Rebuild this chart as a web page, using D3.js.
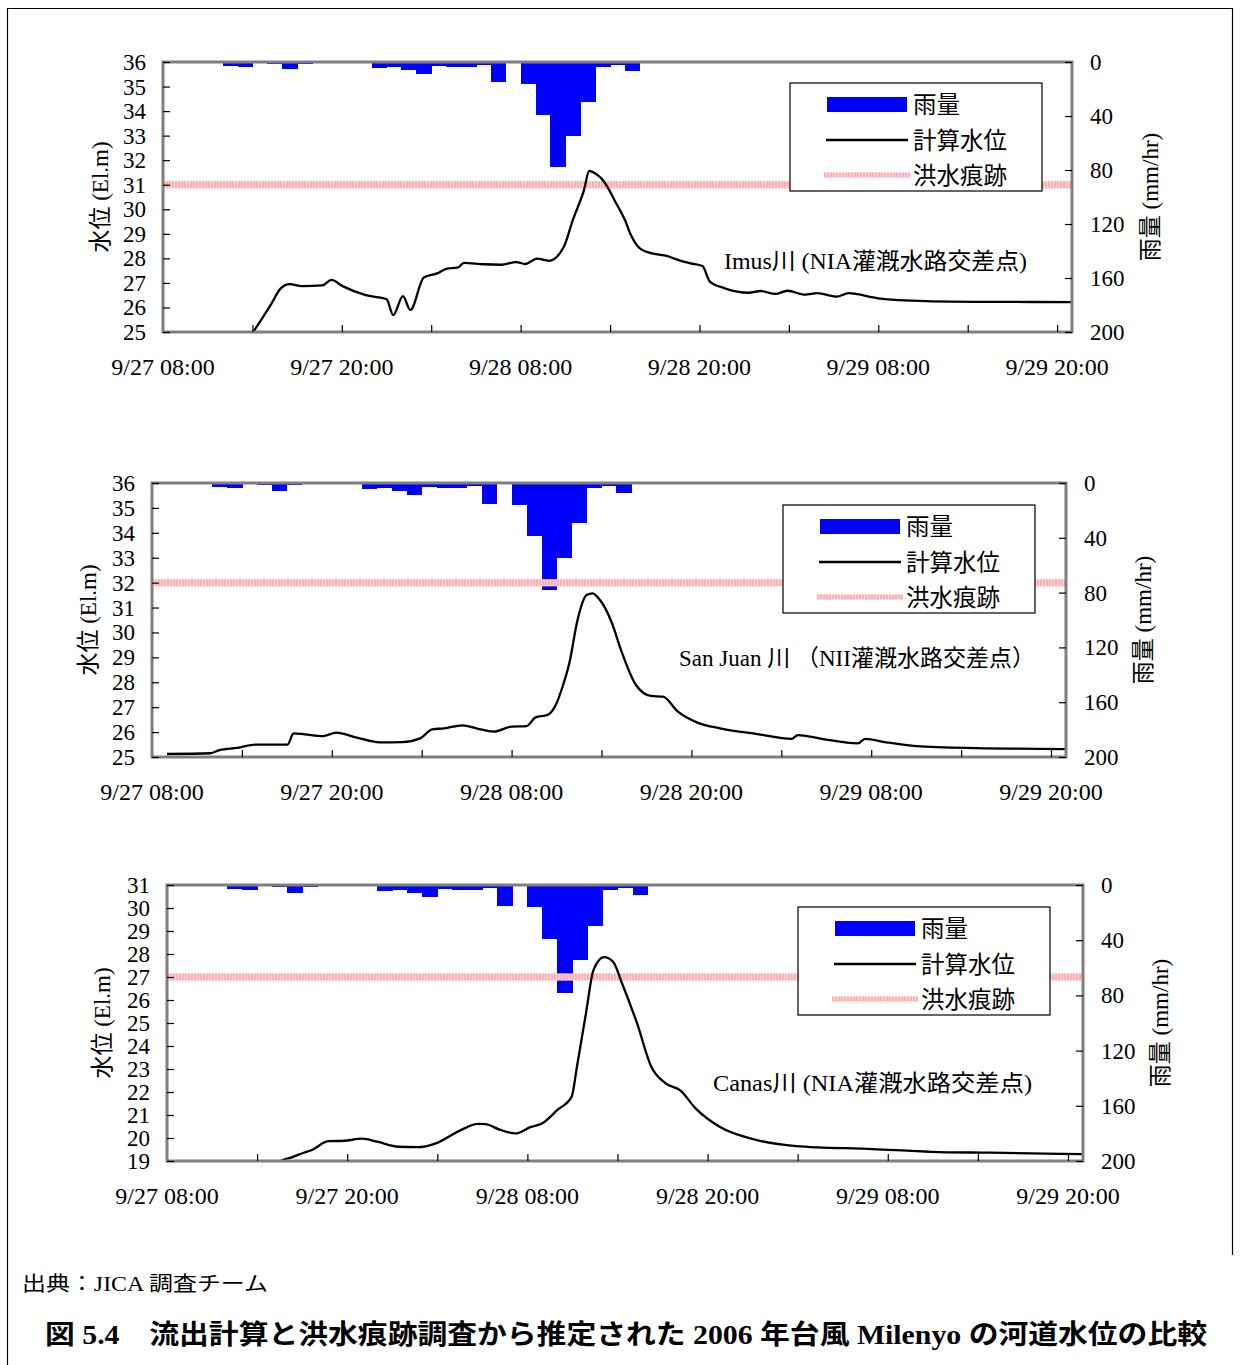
<!DOCTYPE html>
<html>
<head>
<meta charset="utf-8">
<script src="https://cdn.jsdelivr.net/npm/d3@7"></script>
<style>
  body { margin: 0; background: #fff; }
  text { font-family: "Liberation Serif", "Noto Sans CJK JP", serif; fill: #000; }
</style>
</head>
<body>
<script>
/*
DATA
*/
// hourly rainfall (mm/hr), hour 0 = 9/27 08:00
const rainMm = [
  0, 0, 0.5, 0, 3, 3.5, 0.5, 1.5, 5.5, 1.5,
  0, 0, 0, 0, 4.5, 3.5, 6, 9, 3, 3.5,
  3.5, 2, 15, 0.5, 16, 39, 78, 54.5, 29.5, 3.5,
  2, 7, 0, 0, 0, 0, 0, 0, 0.3, 0,
  0, 0, 0.3, 0, 0, 0, 0, 0, 0, 0,
  0, 0, 0, 0, 0, 0, 0, 0, 0, 0, 0
]

// computed water level, hours from 9/27 08:00
const imusHours = [5.6, 6.05, 7.3, 7.9, 8.5, 9.3, 10.7, 11.3, 12.05, 13.6, 15.0, 15.45, 16.1, 16.6, 17.5,
  18.4, 19.0, 19.8, 20.2, 21.5, 22.7, 23.7, 24.3, 25.1, 25.9, 26.9, 27.5, 28.25, 28.6, 29.1,
  29.5, 30.0, 30.3, 31.0, 31.4, 32.0, 33.0, 33.8, 34.6, 35.4, 36.2, 36.7, 37.7, 39.3, 40.1,
  41.1, 41.9, 43.1, 43.9, 45.2, 46.0, 48.0, 51.2, 55.1, 61]
const imusLevel = [24.6, 25.0, 26.18, 26.78, 26.95, 26.87, 26.9, 27.12, 26.87, 26.5, 26.34, 25.69, 26.46, 25.9, 27.22,
  27.39, 27.57, 27.63, 27.82, 27.76, 27.74, 27.85, 27.77, 27.99, 27.9, 28.47, 29.56, 30.78, 31.56, 31.42,
  31.2, 30.72, 30.37, 29.56, 28.95, 28.41, 28.18, 28.1, 27.93, 27.8, 27.69, 27.05, 26.78, 26.6, 26.67,
  26.55, 26.68, 26.52, 26.58, 26.44, 26.58, 26.37, 26.26, 26.23, 26.22]

const sanJuanHours = [1.0, 3.9, 4.5, 5.7, 6.9, 9.05, 9.45, 10.2, 11.4, 12.3, 13.6, 15.2, 16.7, 17.9, 18.7,
  19.5, 20.7, 21.7, 22.8, 24.0, 25.0, 25.6, 26.4, 27.0, 27.4, 27.85, 28.4, 29.0, 29.4, 29.9,
  30.7, 31.3, 32.3, 33.3, 34.1, 35.1, 36.4, 38.0, 40.4, 42.7, 43.1, 44.7, 47.1, 47.6, 49.0,
  51.0, 55.0, 61]
const sanJuanLevel = [25.12, 25.15, 25.28, 25.37, 25.5, 25.5, 25.95, 25.91, 25.84, 25.98, 25.79, 25.59, 25.6, 25.75, 26.11,
  26.15, 26.27, 26.14, 26.02, 26.22, 26.24, 26.59, 26.69, 27.16, 27.82, 28.76, 30.5, 31.5, 31.57, 31.3,
  30.37, 29.3, 27.89, 27.45, 27.42, 26.82, 26.38, 26.14, 25.92, 25.73, 25.88, 25.73, 25.55, 25.73, 25.59,
  25.44, 25.36, 25.32]

const canasHours = [7.3, 7.7, 8.3, 9.1, 9.65, 10.75, 11.8, 13.0, 14.0, 15.4, 16.7, 17.9, 19.5, 20.7, 21.2,
  22.2, 23.2, 24.2, 25.0, 26.0, 26.95, 27.3, 27.9, 28.4, 29.1, 29.7, 30.3, 31.3, 32.25, 33.2,
  34.2, 35.2, 36.8, 39.1, 41.9, 47.0, 50.9, 54.8, 61]
const canasLevel = [18.9, 19.04, 19.16, 19.36, 19.48, 19.86, 19.88, 19.97, 19.84, 19.62, 19.6, 19.77, 20.32, 20.61, 20.6,
  20.35, 20.2, 20.47, 20.64, 21.22, 21.8, 23.1, 25.42, 27.3, 27.86, 27.67, 26.73, 24.99, 23.1, 22.38,
  22.06, 21.29, 20.49, 19.94, 19.65, 19.52, 19.4, 19.36, 19.3]

// flood mark levels (El.m)
const floodMarks = [31, 32, 27]

const timeLabels = ["9/27 08:00", "9/27 20:00", "9/28 08:00", "9/28 20:00", "9/29 08:00", "9/29 20:00"]
const rainTicks = [0, 40, 80, 120, 160, 200]
const legendLabels = ["雨量", "計算水位", "洪水痕跡"]

/*
SET UP
*/
const W = 1240
const H = 1365
const hoursTotal = 61
const pink = "#ffb0b4"

const svg = d3.select("body")
  .append("svg")
  .attr("width", W)
  .attr("height", H);

// page frame
svg.append("path")
  .attr("d", "M7.5,1365 V8.5 H1232.5 V1255")
  .attr("fill", "none")
  .attr("stroke", "#000")
  .attr("stroke-width", 1.2);

const charts = [
  {name: "Imus川 (NIA灌漑水路交差点)", hours: imusHours, level: imusLevel, flood: floodMarks[0],
   left: 163, right: 1072, top: 62, bottom: 332, yMin: 25, yMax: 36,
   titleL: 100, titleR: 1150, legend: [790, 83], note: [724, 269, 303]},
  {name: "San Juan 川 （NII灌漑水路交差点）", hours: sanJuanHours, level: sanJuanLevel, flood: floodMarks[1],
   left: 152, right: 1066, top: 483, bottom: 757, yMin: 25, yMax: 36,
   titleL: 88, titleR: 1143, legend: [783, 505], note: [679, 666, 356]},
  {name: "Canas川 (NIA灌漑水路交差点)", hours: canasHours, level: canasLevel, flood: floodMarks[2],
   left: 167, right: 1083, top: 885, bottom: 1161, yMin: 19, yMax: 31,
   titleL: 102, titleR: 1160, legend: [798, 907], note: [713, 1091, 319]}
]

// hatched pink stroke like the original flood-mark line
function floodStroke(sel, width) {
  sel.clone(true)
    .attr("stroke", "#ffd6d8")
    .attr("stroke-width", width)
    .attr("stroke-dasharray", null)
    .lower();
  sel.attr("stroke", pink)
    .attr("stroke-width", width)
    .attr("stroke-dasharray", "2,1");
}

/*
MAKING A CHART
*/
function makeChart(c, idx) {
  const g = svg.append("g");

  let x = d3.scaleLinear().domain([0, hoursTotal]).range([c.left, c.right]);
  let y = d3.scaleLinear().domain([c.yMin, c.yMax]).range([c.bottom, c.top]);
  let yRain = d3.scaleLinear().domain([0, 200]).range([c.top, c.bottom]);

  const clipId = "clip" + idx;
  g.append("clipPath").attr("id", clipId)
    .append("rect")
    .attr("x", c.left).attr("y", c.top)
    .attr("width", c.right - c.left).attr("height", c.bottom - c.top);

  // rain bars hanging from the top
  g.append("g").selectAll(".bar")
    .data(rainMm)
    .join("rect")
    .attr("class", "bar")
    .attr("x", (d, i) => x(i))
    .attr("y", c.top)
    .attr("width", (d, i) => x(i + 1) - x(i) + 0.6)
    .attr("height", (d) => yRain(d) - c.top)
    .attr("fill", "#0000ff")
    .attr("shape-rendering", "crispEdges");

  // flood mark
  const fg = g.append("g");
  fg.append("line")
    .attr("x1", c.left).attr("x2", c.right)
    .attr("y1", y(c.flood)).attr("y2", y(c.flood))
    .call(floodStroke, 7);

  // computed water level
  const line = d3.line()
    .x((d, i) => x(c.hours[i]))
    .y((d) => y(d))
    .curve(d3.curveMonotoneX);

  g.append("path")
    .datum(c.level)
    .attr("d", line)
    .attr("clip-path", `url(#${clipId})`)
    .attr("fill", "none")
    .attr("stroke", "#000")
    .attr("stroke-width", 2.3);

  // plot frame
  g.append("rect")
    .attr("x", c.left).attr("y", c.top)
    .attr("width", c.right - c.left).attr("height", c.bottom - c.top)
    .attr("fill", "none")
    .attr("stroke", "#7f7f7f")
    .attr("stroke-width", 3);

  // left axis (ticks inward)
  const yAxis = d3.axisRight(y)
    .tickValues(d3.range(c.yMin, c.yMax + 1))
    .tickSize(7)
    .tickFormat("");
  g.append("g").attr("transform", `translate(${c.left},0)`).call(yAxis)
    .call((s) => s.select(".domain").remove())
    .call((s) => s.selectAll("line").attr("stroke", "#000").attr("stroke-width", 1.2));

  g.selectAll(".ylab")
    .data(d3.range(c.yMin, c.yMax + 1))
    .join("text")
    .attr("class", "ylab")
    .attr("x", c.left - 17)
    .attr("y", (d) => y(d) + 8)
    .attr("text-anchor", "end")
    .attr("font-size", 23)
    .text((d) => d);

  // right axis (rain, ticks inward)
  const rAxis = d3.axisLeft(yRain)
    .tickValues(rainTicks)
    .tickSize(7)
    .tickFormat("");
  g.append("g").attr("transform", `translate(${c.right},0)`).call(rAxis)
    .call((s) => s.select(".domain").remove())
    .call((s) => s.selectAll("line").attr("stroke", "#000").attr("stroke-width", 1.2));

  g.selectAll(".rlab")
    .data(rainTicks)
    .join("text")
    .attr("class", "rlab")
    .attr("x", c.right + 18)
    .attr("y", (d) => yRain(d) + 8)
    .attr("font-size", 23)
    .text((d) => d);

  // bottom axis (ticks every 6 h, inward)
  const xAxis = d3.axisTop(x)
    .tickValues(d3.range(6, hoursTotal, 6))
    .tickSize(7)
    .tickFormat("");
  g.append("g").attr("transform", `translate(0,${c.bottom})`).call(xAxis)
    .call((s) => s.select(".domain").remove())
    .call((s) => s.selectAll("line").attr("stroke", "#000").attr("stroke-width", 1.2));

  g.selectAll(".xlab")
    .data(timeLabels)
    .join("text")
    .attr("class", "xlab")
    .attr("x", (d, i) => x(i * 12))
    .attr("y", c.bottom + 43)
    .attr("text-anchor", "middle")
    .attr("font-size", 24)
    .text((d) => d);

  // axis titles
  const midY = (c.top + c.bottom) / 2;
  g.append("text")
    .attr("transform", `translate(${c.titleL + 8},${midY}) rotate(-90)`)
    .attr("text-anchor", "middle")
    .attr("font-size", 23)
    .text("水位 (El.m)");
  g.append("text")
    .attr("transform", `translate(${c.titleR + 8},${midY}) rotate(-90)`)
    .attr("text-anchor", "middle")
    .attr("font-size", 23)
    .text("雨量 (mm/hr)");

  // river name
  g.append("text")
    .attr("x", c.note[0]).attr("y", c.note[1])
    .attr("font-size", 23)
    .attr("textLength", c.note[2])
    .attr("lengthAdjust", "spacingAndGlyphs")
    .text(c.name);

  // legend
  const [lx, ly] = c.legend;
  const lg = g.append("g").attr("transform", `translate(${lx},${ly})`);
  lg.append("rect")
    .attr("width", 252).attr("height", 108)
    .attr("fill", "#fff")
    .attr("stroke", "#000")
    .attr("stroke-width", 1.2);
  lg.append("rect")
    .attr("x", 37).attr("y", 14).attr("width", 80).attr("height", 15)
    .attr("fill", "#0000ff");
  lg.append("line")
    .attr("x1", 36).attr("x2", 118).attr("y1", 57).attr("y2", 57)
    .attr("stroke", "#000").attr("stroke-width", 2.3);
  lg.append("g").append("line")
    .attr("x1", 34).attr("x2", 120).attr("y1", 92).attr("y2", 92)
    .call(floodStroke, 5);
  lg.selectAll(".ltxt")
    .data(legendLabels)
    .join("text")
    .attr("class", "ltxt")
    .attr("x", 123)
    .attr("y", (d, i) => [30, 66, 101][i])
    .attr("font-size", 23.5)
    .text((d) => d);
}

charts.forEach(makeChart);

/*
FOOTER
*/
svg.append("text")
  .attr("x", 22).attr("y", 1291)
  .attr("font-size", 20)
  .attr("textLength", 246)
  .attr("lengthAdjust", "spacingAndGlyphs")
  .text("出典：JICA 調査チーム");

svg.append("text")
  .attr("x", 45).attr("y", 1344)
  .attr("font-size", 27)
  .attr("font-weight", "bold")
  .attr("textLength", 1162)
  .attr("lengthAdjust", "spacingAndGlyphs")
  .text("図 5.4　流出計算と洪水痕跡調査から推定された 2006 年台風 Milenyo の河道水位の比較");
</script>
</body>
</html>
